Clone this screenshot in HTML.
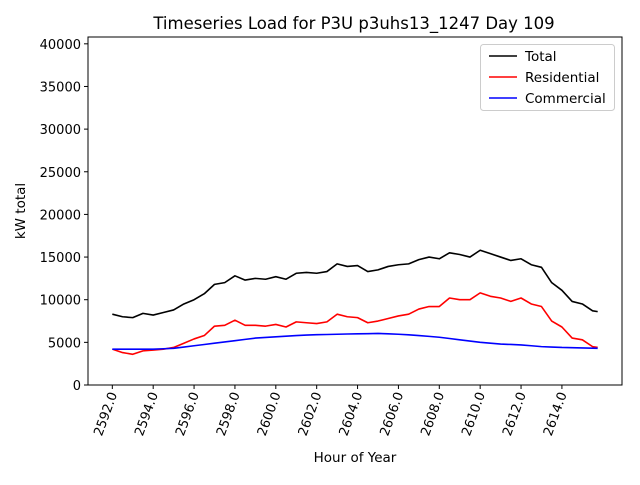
<!DOCTYPE html>
<html><head><meta charset="utf-8"><style>
body{margin:0;background:#fff;}
svg text{font-family:"DejaVu Sans","Liberation Sans",sans-serif;fill:#000;}
</style></head><body>
<svg id="chart" width="640" height="480"></svg>
<script>
const hours=[];for(let i=0;i<48;i++)hours.push(2592+i*0.5);hours.push(2615.75);
const totalLoad=[8300,8000,7900,8400,8200,8500,8800,9500,10000,10700,11800,12000,12800,12300,12500,12400,12700,12400,13100,13200,13100,13300,14200,13900,14000,13300,13500,13900,14100,14200,14700,15000,14800,15500,15300,15000,15800,15400,15000,14600,14800,14100,13800,12000,11100,9800,9500,8700,8600];
const residentialLoad=[4200,3800,3600,4000,4100,4200,4400,4900,5400,5800,6900,7000,7600,7000,7000,6900,7100,6800,7400,7300,7200,7400,8300,8000,7900,7300,7500,7800,8100,8300,8900,9200,9200,10200,10000,10000,10800,10400,10200,9800,10200,9500,9200,7500,6800,5500,5300,4500,4400];
const commercialLoad=[4200,4200,4200,4200,4200,4250,4300,4450,4600,4750,4900,5050,5200,5350,5500,5580,5650,5720,5800,5850,5900,5920,5950,5980,6000,6020,6050,6000,5950,5880,5800,5700,5600,5450,5300,5150,5000,4900,4800,4750,4700,4600,4500,4450,4400,4380,4350,4320,4300];
const yTicks=[0,5000,10000,15000,20000,25000,30000,35000,40000];
const xTicks=[2592,2594,2596,2598,2600,2602,2604,2606,2608,2610,2612,2614];
const L=88,R=622,T=37,B=385;
const x0=2590.81,x1=2616.94,y0=0,y1=40800;
const sx=v=>L+(v-x0)/(x1-x0)*(R-L);
const sy=v=>B-(v-y0)/(y1-y0)*(B-T);
const NS='http://www.w3.org/2000/svg';
const svg=document.getElementById('chart');
function mk(t,a,txt){const e=document.createElementNS(NS,t);for(const k in a)e.setAttribute(k,a[k]);if(txt!==undefined)e.textContent=txt;svg.appendChild(e);return e;}
yTicks.forEach(v=>{
 const l=mk('line',{x1:L-4,x2:L,y1:sy(v),y2:sy(v),stroke:'#000'});
 
 
 const t=mk('text',{x:L-7,y:sy(v)+5,'text-anchor':'end','font-size':'13'},String(v));
 
 
});
xTicks.forEach(v=>{
 const l=mk('line',{x1:sx(v),x2:sx(v),y1:B,y2:B+4,stroke:'#000'});
 
 
 const t=mk('text',{x:0,y:0,'text-anchor':'end','font-size':'13',transform:`translate(${sx(v)+5},${B+9}) rotate(-70)`},v.toFixed(1));
 
 
});
function series(vals,color,name){
 const p=mk('polyline',{points:hours.map((h,i)=>sx(h)+','+sy(vals[i])).join(' '),fill:'none',stroke:color,'stroke-width':'1.6','stroke-linejoin':'round'});
 
 
}
series(totalLoad,'#000','total-line');
series(residentialLoad,'#f00','residential-line');
series(commercialLoad,'#00f','commercial-line');
const f=mk('rect',{x:L,y:T,width:R-L,height:B-T,fill:'none',stroke:'#000','stroke-width':'1'});


</script>
<svg width="640" height="480" style="position:absolute;left:0;top:0">
<text x="354" y="29" text-anchor="middle" font-size="16.5">Timeseries Load for P3U p3uhs13_1247  Day 109</text>
<text x="355" y="462" text-anchor="middle" font-size="13.5">Hour of Year</text>
<text transform="translate(25,211) rotate(-90)" text-anchor="middle" font-size="13.5">kW total</text>
<g>
<rect x="480.5" y="44.5" width="134" height="66" rx="3" fill="#fff" stroke="#ccc"/>
<line x1="489" x2="517" y1="56" y2="56" stroke="#000" stroke-width="1.6"/>
<text x="525" y="61" font-size="13.5">Total</text>
<line x1="489" x2="517" y1="77" y2="77" stroke="#f00" stroke-width="1.6"/>
<text x="525" y="82" font-size="13.5">Residential</text>
<line x1="489" x2="517" y1="98" y2="98" stroke="#00f" stroke-width="1.6"/>
<text x="525" y="103" font-size="13.5">Commercial</text>
</g>
</svg>
</body></html>
